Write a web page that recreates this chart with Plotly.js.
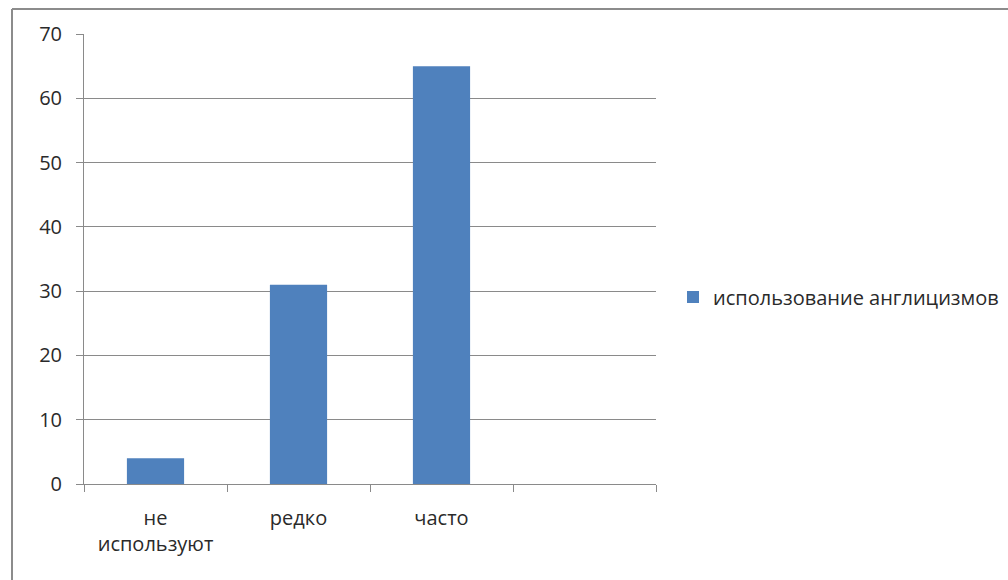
<!DOCTYPE html>
<html>
<head>
<meta charset="utf-8">
<script src="https://cdn.plot.ly/plotly-3.0.1.min.js"></script>
<style>html,body{margin:0;padding:0;background:#fff;}#chart{width:1008px;height:580px;}</style>
</head>
<body>
<div id="chart"></div>
<script>
const categories = ["не<br>используют", "редко", "часто", " "];
const values = [4, 31, 65, null];
const seriesName = "использование англицизмов";
const yTicks = [0, 10, 20, 30, 40, 50, 60, 70];

const FONT = "Open Sans, Noto Sans, sans-serif";
const W = 1008, H = 580, ML = 84, MR = 352, MT = 34, MB = 96;
const PW = W - ML - MR, PH = H - MT - MB;
const px = x => (x - ML) / PW;
const py = y => (H - MB - y) / PH;

const trace = {
  type: "bar",
  x: categories,
  y: values,
  name: seriesName,
  marker: {color: "#4f81bd"},
  showlegend: true
};

const layout = {
  width: W, height: H,
  margin: {l: ML, r: MR, t: MT, b: MB, pad: 0, autoexpand: false},
  paper_bgcolor: "#fff", plot_bgcolor: "#fff",
  bargap: 0.6,
  font: {family: FONT, color: "#2a2a2a", size: 20},
  xaxis: {
    type: "category",
    automargin: false,
    tickson: "boundaries",
    ticks: "outside", ticklen: 7, tickcolor: "#8a8a8a", tickwidth: 1,
    showline: true, linecolor: "#8a8a8a", linewidth: 1,
    showgrid: false, zeroline: false,
    ticklabelstandoff: 16,
    tickfont: {family: FONT, size: 20, color: "#2a2a2a"},
    fixedrange: true
  },
  yaxis: {
    range: [0, 70],
    automargin: false,
    tickvals: yTicks,
    ticktext: yTicks.map(String),
    ticks: "outside", ticklen: 7, tickcolor: "#8a8a8a", tickwidth: 1,
    showline: true, linecolor: "#8a8a8a", linewidth: 1,
    showgrid: true, gridcolor: "#8a8a8a", gridwidth: 1,
    zeroline: false,
    ticklabelstandoff: 10,
    tickfont: {family: FONT, size: 20, color: "#2a2a2a"},
    fixedrange: true
  },
  legend: {
    x: px(673), xanchor: "left",
    y: py(297), yanchor: "middle",
    font: {family: FONT, size: 20, color: "#2a2a2a"},
    bgcolor: "rgba(0,0,0,0)",
    itemwidth: 30
  },
  shapes: [
    {type: "line", xref: "paper", yref: "paper", x0: px(12), x1: px(1008), y0: py(9), y1: py(9), line: {color: "#8c8c8c", width: 2}},
    {type: "line", xref: "paper", yref: "paper", x0: px(12), x1: px(12), y0: py(9), y1: py(580), line: {color: "#8c8c8c", width: 2}}
  ]
};

Plotly.newPlot("chart", [trace], layout, {displayModeBar: false, staticPlot: true});
</script>
</body>
</html>
